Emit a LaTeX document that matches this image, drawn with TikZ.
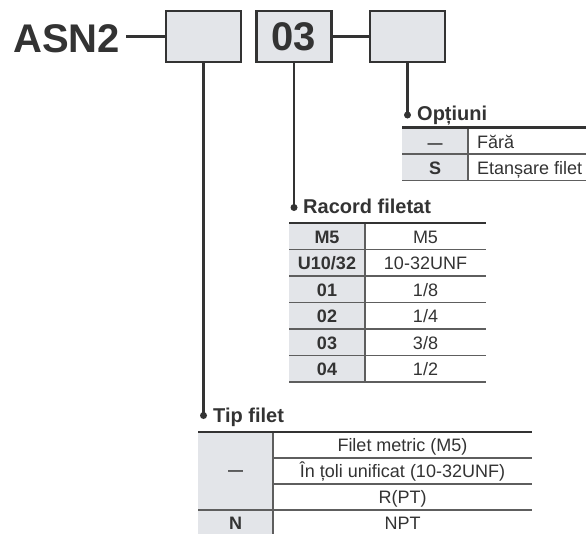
\documentclass[tikz,border=0pt]{standalone}
\usepackage{fontspec}
\setmainfont{Liberation Sans}
\usetikzlibrary{positioning}
\definecolor{ink}{HTML}{333333}
\definecolor{cellgray}{HTML}{E3E5E9}
\definecolor{rulegray}{HTML}{5E5E5E}
\tikzset{
  codebox/.style={draw=ink, line width=2.5pt, fill=cellgray, minimum width=75pt, minimum height=51pt, inner sep=0pt, font=\fontsize{40}{40}\selectfont\bfseries, text=ink},
  big/.style={font=\fontsize{40}{40}\selectfont\bfseries, text=ink, inner sep=0pt},
  lead/.style={draw=ink, line width=2.8pt},
  title/.style={anchor=base west, font=\fontsize{20}{20}\selectfont\bfseries, text=ink, inner sep=0pt},
  code/.style={anchor=base, font=\fontsize{18}{18}\selectfont\bfseries, text=ink, inner sep=0pt},
  desc/.style={anchor=base, font=\fontsize{18}{18}\selectfont, text=ink, inner sep=0pt},
  toprule/.style={draw=ink, line width=2.2pt},
  rowrule/.style={draw=rulegray, line width=1.1pt},
}
\newcommand{\nada}{{\fontsize{15}{15}\selectfont ---}}

\begin{document}
\begin{tikzpicture}[x=1pt,y=-1pt]
\useasboundingbox (0,0) rectangle (586,533);

\node[codebox] (box1) at (203.5,36.5) {};
\node[codebox] (box2) at (294,36.5) {03};
\node[codebox] (box3) at (407.5,36.5) {};
\node[big, anchor=base west, inner xsep=6pt] (asn) at (7,52) {ASN2};
\draw[lead] (asn.east |- box1.west) -- (box1.west);
\draw[lead] (box2.east) -- (box3.west);

\coordinate (optdot) at (407.5,115);
\coordinate (rcdot) at (294,207.5);
\coordinate (tipdot) at (203.5,415.5);
\draw[lead] (box3.south) -- (optdot);
\draw[lead] (box2.south) -- (rcdot);
\draw[lead] (box1.south) -- (tipdot);
\foreach \p in {optdot,rcdot,tipdot}
  \fill[ink] (\p) circle (3.5);

\node[title] (opttitle) at (417,120.5) {Opțiuni};
\node[title] (rctitle) at (303,213.5) {Racord filetat};
\node[title] (tiptitle) at (213,422.5) {Tip filet};

% Optiuni
\fill[cellgray] (402,127.5) rectangle (468,180.5);
\foreach \y in {154,180.5}
  \draw[rowrule] (402,\y) -- (586,\y);
\draw[rowrule] (468,127.5) -- (468,180.5);
\draw[toprule] (402,127.5) -- (586,127.5);
\node[code] (oc1) at (435,148) {\nada};
\node[desc, anchor=base west] (od1) at (477,148) {Fără};
\node[code] (oc2) at (435,174.5) {S};
\node[desc, anchor=base west] (od2) at (477,174.5) {Etanșare filet};

% Racord filetat
\fill[cellgray] (289,223) rectangle (365,382);
\foreach \i in {1,...,6}
  \draw[rowrule] (289,223+26.5*\i) -- (486,223+26.5*\i);
\draw[rowrule] (365,223) -- (365,382);
\draw[toprule] (289,223) -- (486,223);
\foreach \c/\d [count=\i] in {{M5}/{M5},{U10/32}/{10-32UNF},{01}/{1/8},{02}/{1/4},{03}/{3/8},{04}/{1/2}}
  \node[code] (rc\i) at (327,{223+26.5*\i-6.5}) {\c}
    node[desc] (rd\i) at (425.5,{223+26.5*\i-6.5}) {\d};

% Tip filet
\fill[cellgray] (198,432) rectangle (273,540);
\foreach \y in {458,484}
  \draw[rowrule] (273,\y) -- (532,\y);
\draw[rowrule] (198,510) -- (532,510);
\draw[rowrule] (273,432) -- (273,540);
\draw[toprule] (198,432) -- (532,432);
\node[code] (tc1) at (235.5,475) {\nada};
\node[code] (tc2) at (235.5,529.5) {N};
\foreach \d [count=\i] in {Filet metric (M5),În țoli unificat (10-32UNF),R(PT),NPT}
  \node[desc] (td\i) at (402.5,{432+26*\i-6.5}) {\d};
\end{tikzpicture}
\end{document}
